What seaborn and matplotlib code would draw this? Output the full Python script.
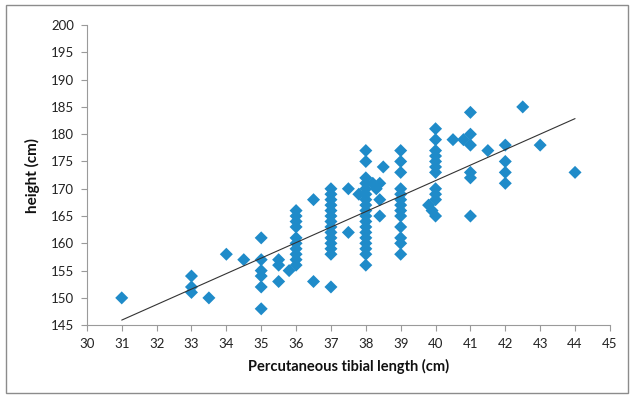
import numpy as np
import pandas as pd
import matplotlib
matplotlib.use("Agg")
import matplotlib.pyplot as plt
import seaborn as sns
from matplotlib.patches import Rectangle

# Percutaneous tibial length (cm) and body height (cm) per subject
tibia = [
    31,
    33, 33, 33,
    33.5,
    34,
    34.5,
    35, 35, 35, 35, 35, 35,
    35.5, 35.5, 35.5,
    35.8,
    36, 36, 36, 36, 36, 36, 36, 36, 36, 36,
    36.5, 36.5,
    37, 37, 37, 37, 37, 37, 37, 37, 37, 37, 37, 37, 37, 37,
    37.5, 37.5,
    37.8,
    38, 38, 38, 38, 38, 38, 38, 38, 38, 38, 38, 38, 38, 38, 38, 38, 38, 38,
    38.2, 38.3, 38.4, 38.4, 38.4, 38.5,
    39, 39, 39, 39, 39, 39, 39, 39, 39, 39, 39, 39, 39,
    39.8, 39.9,
    40, 40, 40, 40, 40, 40, 40, 40, 40, 40, 40,
    40.5, 40.8,
    41, 41, 41, 41, 41, 41,
    41.5,
    42, 42, 42, 42,
    42.5,
    43,
    44,
]
height = [
    150,
    154, 152, 151,
    150,
    158,
    157,
    161, 157, 155, 154, 152, 148,
    157, 156, 153,
    155,
    166, 165, 164, 163, 161, 160, 159, 158, 157, 156,
    168, 153,
    170, 169, 168, 167, 166, 165, 164, 163, 162, 161, 160, 159, 158, 152,
    170, 162,
    169,
    177, 175, 172, 171, 170, 169, 168, 167, 166, 165, 164, 163, 162, 161, 160, 159, 158, 156,
    171, 170, 171, 168, 165, 174,
    177, 175, 173, 170, 169, 168, 167, 166, 165, 163, 161, 160, 158,
    167, 166,
    181, 179, 177, 176, 175, 174, 173, 170, 169, 168, 165,
    179, 179,
    184, 180, 178, 173, 172, 165,
    177,
    178, 175, 173, 171,
    185,
    178,
    173,
]

x_ticks = list(range(30, 46))
y_ticks = list(range(145, 201, 5))

df = pd.DataFrame({"tibia": tibia, "height": height})

sns.set_style("ticks")
plt.rcParams["font.family"] = ["Lato", "DejaVu Sans"]

fig = plt.figure(figsize=(6.34, 3.98), dpi=100)
ax = fig.add_axes([0.137, 0.183, 0.825, 0.754])

sns.scatterplot(data=df, x="tibia", y="height", marker="D", s=44,
                color="#1f8bc9", edgecolor="none", linewidth=0, ax=ax, zorder=2)
sns.regplot(data=df, x="tibia", y="height", scatter=False, ci=None,
            truncate=True, ax=ax,
            line_kws=dict(color="#333333", lw=0.8, zorder=3))

ax.set_xlim(30, 45)
ax.set_ylim(145, 200)
ax.set_xticks(x_ticks)
ax.set_yticks(y_ticks)
ax.tick_params(axis="both", direction="out", length=4, width=0.8,
               color="#9a9a9a", labelsize=9.5, labelcolor="#222222", pad=5)

for side in ["top", "right"]:
    ax.spines[side].set_visible(False)
for side in ["left", "bottom"]:
    ax.spines[side].set_color("#9a9a9a")
    ax.spines[side].set_linewidth(0.8)

ax.set_xlabel("Percutaneous tibial length (cm)", fontsize=10.5,
              fontweight="bold", color="#111111", labelpad=7)
ax.set_ylabel("height (cm)", fontsize=11, fontweight="bold",
              color="#111111", labelpad=8)

# outer chart frame
fig.patches.append(Rectangle((0.009, 0.012), 0.982, 0.975,
                             transform=fig.transFigure, fill=False,
                             edgecolor="#8c8c8c", lw=1.0))

fig.savefig("out.png", dpi=100, facecolor="white")
